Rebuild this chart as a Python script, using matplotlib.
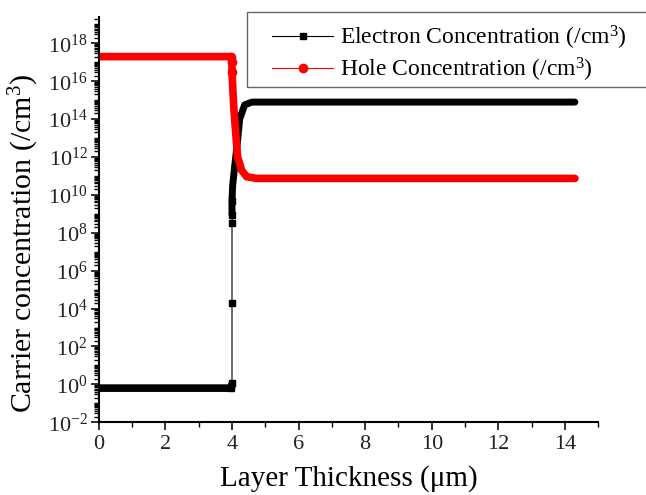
import matplotlib
matplotlib.use("Agg")
import matplotlib.pyplot as plt
import matplotlib.ticker as ticker
from matplotlib.patches import Rectangle
import numpy as np

plt.rcParams['font.family'] = ['Liberation Serif', 'DejaVu Serif']
plt.rcParams['mathtext.fontset'] = 'custom'
plt.rcParams['mathtext.rm'] = 'Liberation Serif'
plt.rcParams['mathtext.it'] = 'Liberation Serif:italic'

# electron concentration, log10(/cm^3) vs depth (um)
elec_x = [0.0, 1.0, 2.0, 3.0, 3.98, 4.0, 4.0, 4.0, 4.0, 4.0, 4.02, 4.08, 4.17, 4.23, 4.38, 4.6, 5.0, 6.0, 8.0, 10.0, 12.0, 14.3]
elec_log = [-0.2, -0.2, -0.2, -0.2, -0.2, 0.06, 4.3, 8.5, 8.95, 9.7, 10.5, 11.5, 12.9, 14.0, 14.75, 14.9, 14.9, 14.9, 14.9, 14.9, 14.9, 14.9]

# hole concentration
hole_x = [0.0, 1.0, 2.0, 3.0, 3.98, 4.0, 4.0, 4.05, 4.11, 4.17, 4.29, 4.44, 4.74, 5.0, 6.0, 8.0, 10.0, 12.0, 14.3]
hole_log = [17.3, 17.3, 17.3, 17.3, 17.3, 17.0, 16.5, 14.7, 13.3, 12.0, 11.3, 10.96, 10.87, 10.87, 10.87, 10.87, 10.87, 10.87, 10.87]

y_exponents = list(range(-2, 19, 2))

elec = 10.0 ** np.array(elec_log)
hole = 10.0 ** np.array(hole_log)
elec_x = np.array(elec_x)
hole_x = np.array(hole_x)

fig = plt.figure(figsize=(6.46, 4.95), dpi=100)
ax = fig.add_axes([0.153, 0.147, 0.773, 0.819])

# dense sampled points look like a thick band
ax.plot(elec_x[:6], elec[:6], color='black', lw=5.5, solid_capstyle='butt')
ax.plot(elec_x[8:], elec[8:], color='black', lw=5.0, solid_capstyle='round')
ax.plot(elec_x, elec, color='black', lw=0.8, marker='s', ms=5,
        markevery=[4, 5, 6, 7, 8, 9], label='Electron Concentration (/cm$^3$)')
ax.plot(hole_x, hole, color='red', lw=5.5, solid_capstyle='round')
ax.plot(hole_x, hole, color='red', lw=0.8, marker='o', ms=6,
        markevery=[4, 5, 6], label='Hole Concentration (/cm$^3$)')

ax.set_yscale('log')
ax.set_xlim(0, 15)
ax.set_ylim(1e-2, 10 ** 19.4)

ax.xaxis.set_major_locator(ticker.MultipleLocator(2))
ax.xaxis.set_minor_locator(ticker.MultipleLocator(1))
ax.set_yticks([10.0 ** k for k in y_exponents])
ax.set_yticklabels([r'$\mathregular{10^{%d}}$' % k for k in y_exponents])
ax.yaxis.set_minor_locator(ticker.LogLocator(base=10, subs=np.arange(1, 10), numticks=100))
ax.yaxis.set_minor_formatter(ticker.NullFormatter())

for s in ['top', 'right']:
    ax.spines[s].set_visible(False)
for s in ['left', 'bottom']:
    ax.spines[s].set_linewidth(1.5)
ax.tick_params(which='major', direction='out', length=6, width=1.3, labelsize=16, colors='#222222')
ax.tick_params(axis='y', which='major', pad=2)
ax.tick_params(which='minor', direction='out', length=3.5, width=1.0)

ax.set_xlabel('Layer Thickness (μm)', fontsize=21, labelpad=8)
ax.set_ylabel('Carrier concentration (/cm$^3$)', fontsize=21.5)
ax.yaxis.set_label_coords(-0.115, 0.44)

# legend box runs past the right edge of the figure
fig.patches.append(Rectangle((247 / 646, 1 - 87 / 495), 0.7, 75 / 495,
                             transform=fig.transFigure, fill=False,
                             edgecolor='#666666', linewidth=1.0))
leg = ax.legend(loc='upper left', bbox_to_anchor=(272 / 646, 1 - 24 / 495),
                bbox_transform=fig.transFigure, fontsize=17, frameon=False,
                borderpad=0, handlelength=2.6, handletextpad=0.3,
                labelspacing=0.15, borderaxespad=0)
for h in leg.legend_handles:
    h.set_linewidth(0.8)

fig.savefig('out.png', dpi=100)
